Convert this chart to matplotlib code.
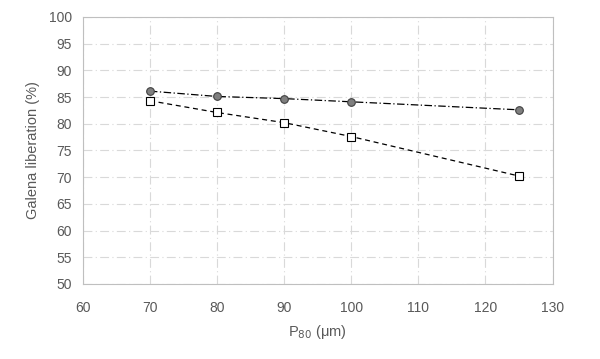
import matplotlib.pyplot as plt

p80 = [70, 80, 90, 100, 125]
lib_circle = [86.1, 85.1, 84.7, 84.1, 82.6]
lib_square = [84.3, 82.1, 80.2, 77.6, 70.2]

x_ticks = [60, 70, 80, 90, 100, 110, 120, 130]
y_ticks = [50, 55, 60, 65, 70, 75, 80, 85, 90, 95, 100]


def main():
    plt.rcParams['font.family'] = ['Liberation Sans', 'DejaVu Sans']
    fig = plt.figure(figsize=(6, 3.59), dpi=100)
    ax = fig.add_axes([0.138, 0.209, 0.783, 0.744])

    ax.plot(p80, lib_circle, linestyle=(0, (6, 2, 1, 2)), color='black', linewidth=0.9,
            marker='o', markersize=5.5, markerfacecolor='#7f7f7f',
            markeredgecolor='#404040', markeredgewidth=0.8, zorder=3)
    ax.plot(p80, lib_square, linestyle=(0, (4, 3)), color='black', linewidth=0.9,
            marker='s', markersize=5.5, markerfacecolor='white',
            markeredgecolor='black', markeredgewidth=0.8, zorder=3)

    ax.set_xlim(60, 130)
    ax.set_ylim(50, 100)
    ax.set_xticks(x_ticks)
    ax.set_yticks(y_ticks)
    ax.grid(True, color='#d9d9d9', linestyle=(0, (8, 3, 1, 3)), linewidth=0.8)
    ax.set_axisbelow(True)
    for s in ax.spines.values():
        s.set_color('#bfbfbf')
        s.set_linewidth(0.8)
    ax.tick_params(length=0, labelsize=10, labelcolor='#595959')
    ax.tick_params(axis='x', pad=12)
    ax.tick_params(axis='y', pad=8)

    ax.set_xlabel('P$_{80}$ (μm)', fontsize=10.5, color='#595959', labelpad=6)
    ax.set_ylabel('Galena liberation (%)', fontsize=10.5, color='#595959', labelpad=6)

    fig.savefig('out.png', dpi=100)


if __name__ == '__main__':
    main()
